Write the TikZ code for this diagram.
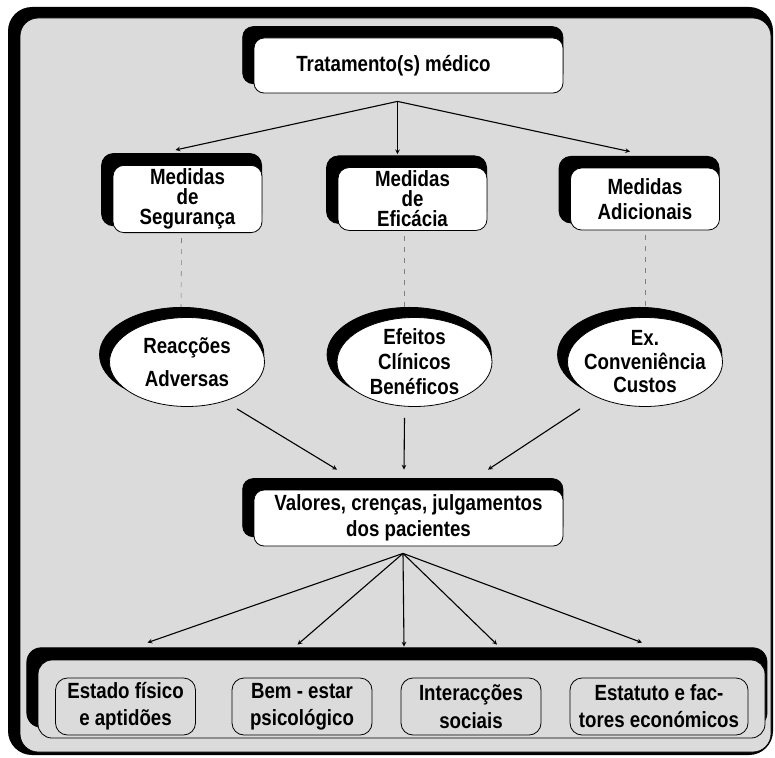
\documentclass[tikz,border=0pt]{standalone}
\usepackage{fontspec}
\setmainfont[FakeStretch=0.85]{Liberation Sans}
\usetikzlibrary{shapes.geometric, arrows, positioning, calc, shadows}
\definecolor{paper}{gray}{0.86}

\begin{document}
\begin{tikzpicture}[x=1pt, y=-1pt, font=\fontsize{22}{20}\selectfont\bfseries]
    \tikzstyle{headbox} = [rectangle, rounded corners=10pt, draw=black, line width=0.8pt, fill=white, minimum width=309pt, minimum height=55pt, align=center, general shadow={fill=black, draw=black, shadow scale=1.036, shadow xshift=-5.5pt, shadow yshift=10pt}]
    \tikzstyle{measure} = [rectangle, rounded corners=11pt, draw=black, line width=0.8pt, fill=white, minimum width=149pt, minimum height=62pt, align=center, general shadow={fill=black, draw=black, shadow scale=1.074, shadow xshift=-5.5pt, shadow yshift=8.7pt}]
    \tikzstyle{outcome} = [ellipse, draw=black, line width=0.8pt, fill=white, minimum width=155pt, minimum height=89pt, inner sep=-8pt, align=center, general shadow={fill=black, draw=black, shadow scale=1.06, shadow xshift=-5pt, shadow yshift=7pt}]
    \tikzstyle{panelbox} = [rectangle, rounded corners=14pt, draw=black, line width=0.8pt, fill=paper, minimum width=727pt, minimum height=78pt, general shadow={fill=black, draw=black, shadow scale=1.018, shadow xshift=-4.5pt, shadow yshift=11.3pt}]
    \tikzstyle{factor} = [rectangle, rounded corners=12pt, draw=black, line width=0.8pt, fill=paper, minimum width=140pt, minimum height=57pt, align=center]
    \tikzstyle{arrow} = [line width=1.1pt,->,>=stealth]
    \tikzstyle{link} = [gray, line width=0.6pt, dash pattern=on 5pt off 6pt]

    \useasboundingbox (0,0) rectangle (775,757);
    % outer frame
    \fill[black, rounded corners=24pt] (8,7) rectangle (773,755);
    \filldraw[fill=paper, draw=black, line width=0.8pt, rounded corners=18pt] (20,18) rectangle (771,752);

    \node[headbox] (treat) at (408.5,65.5) {Tratamento(s) médico\hspace*{30pt}};

    \node[measure] (segur) at (187.5,199) {Medidas\\de\\Segurança};
    \node[measure] (efic) at (412.5,199) {Medidas\\de\\Eficácia};
    \node[measure] (adic) at (645,199) {Medidas\\[5pt]Adicionais};

    \node[outcome] (reac) at (187,362) {Reacções\\[12pt]Adversas};
    \node[outcome] (benef) at (414.5,362) {Efeitos\\[5pt]Clínicos\\[5pt]Benéficos};
    \node[outcome] (conv) at (645,362) {Ex.\\[4pt]Conveniência\\[3pt]Custos};

    \node[headbox, minimum height=56pt] (values) at (408.5,518) {Valores, crenças, julgamentos\\[5pt]dos pacientes};

    \node[panelbox] (panel) at (401.5,699) {};
    \node[factor] (phys) at (125.5,706.5) {Estado físico\\[7pt]e aptidões};
    \node[factor] (psych) at (302,706.5) {Bem - estar\\[7pt]psicológico};
    \node[factor] (social) at (471,706.5) {Interacções\\[7pt]sociais};
    \node[factor, minimum width=178pt] (econ) at (659,706.5) {Estatuto e fac-\\[7pt]tores económicos};

    \coordinate (fork) at ($(treat.south)+(-11,8)$);
    \draw[arrow] (fork) -- ($(segur.north)+(-12,-15)$);
    \draw[arrow] (fork) -- ($(efic.north)+(-15,-13)$);
    \draw[arrow] (fork) -- ($(adic.north)+(-15,-16)$);

    \draw[link] (segur.south) ++(-6,5) -- ($(reac.north)+(-6,-10)$);
    \draw[link] (efic.south) ++(-8,5) -- ($(benef.north)+(-10,-10)$);
    \draw[link] (adic.south) ++(0,5) -- ($(conv.north)+(0,-10)$);

    \draw[arrow] ($(reac.south)+(50,2)$) -- ($(values.north)+(-71.5,-20)$);
    \draw[arrow] ($(benef.south)+(-10,11)$) -- ($(values.north)+(-4.5,-20)$);
    \draw[arrow] ($(conv.south)+(-65,2)$) -- ($(values.north)+(79.5,-20)$);

    \coordinate (root) at ($(values.south)+(-5.5,7)$);
    \draw[arrow] (root) -- ($(panel.north)+(-254,-17)$);
    \draw[arrow] (root) -- ($(panel.north)+(-104,-15)$);
    \draw[arrow] (root) -- ($(panel.north)+(2.5,-13)$);
    \draw[arrow] (root) -- ($(panel.north)+(95.5,-15)$);
    \draw[arrow] (root) -- ($(panel.north)+(240.5,-17)$);
\end{tikzpicture}
\end{document}
